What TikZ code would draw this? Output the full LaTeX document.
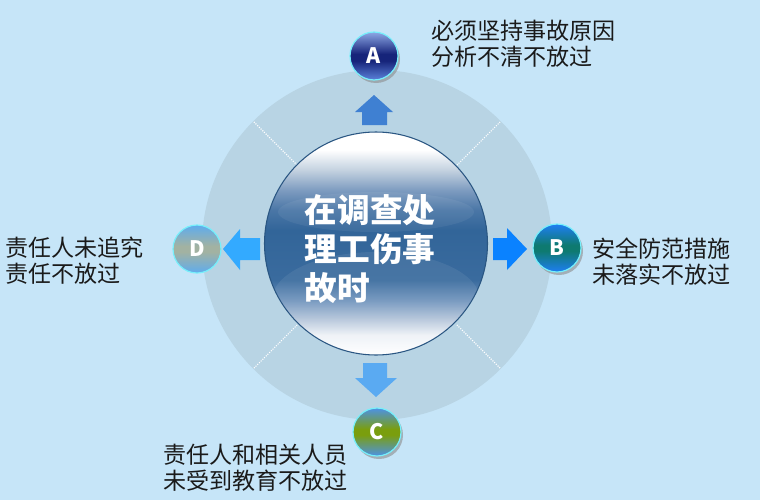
\documentclass[tikz,border=0pt]{standalone}
\usepackage{fontspec}
\setmainfont{Noto Sans CJK SC}
\newfontfamily\cjk{Noto Sans CJK SC}
\usetikzlibrary{shadings,calc}
\definecolor{bgc}{HTML}{C6E5F8}
\definecolor{ringc}{HTML}{B8D4E4}
\definecolor{iDark}{HTML}{326599}
\definecolor{aT}{HTML}{5C82DA}
\definecolor{aM}{HTML}{16247A}
\definecolor{bT}{HTML}{1E7EF4}
\definecolor{bM}{HTML}{0E7A70}
\definecolor{cT}{HTML}{4C92E6}
\definecolor{cM}{HTML}{7A9E0E}
\definecolor{dT}{HTML}{5EACEE}
\definecolor{dM}{HTML}{A2B2A2}
\definecolor{arU}{HTML}{3F80D2}
\definecolor{arR}{HTML}{0A82FF}
\definecolor{arL}{HTML}{33AAFF}
\definecolor{arD}{HTML}{5AAAF2}
\definecolor{txt}{HTML}{1A1A1A}
\definecolor{s1}{HTML}{C4D2E0}
\definecolor{s2}{HTML}{7E9CC0}
\definecolor{s3}{HTML}{4A76A6}
\definecolor{s4}{HTML}{3A6B9E}
\definecolor{s5}{HTML}{6F93BC}
\definecolor{s6}{HTML}{B8C8DC}
\definecolor{s7}{HTML}{EEF2F7}
\pgfdeclareverticalshading{innersh}{100bp}{color(0bp)=(white); color(25bp)=(white); color(29.5bp)=(s7); color(32.8bp)=(s6); color(37.3bp)=(s5); color(41.8bp)=(s4); color(53bp)=(iDark); color(57.5bp)=(s3); color(62bp)=(s2); color(66.5bp)=(s1); color(71bp)=(white); color(100bp)=(white)}
\pgfdeclareverticalshading{ballA}{100bp}{color(0bp)=(aT); color(25bp)=(aT); color(45bp)=(aM); color(52bp)=(aM); color(75bp)=(aT!70!white); color(100bp)=(aT)}
\pgfdeclareverticalshading{ballB}{100bp}{color(0bp)=(bT); color(25bp)=(bT); color(47bp)=(bM); color(53bp)=(bM); color(75bp)=(bT); color(100bp)=(bT)}
\pgfdeclareverticalshading{ballC}{100bp}{color(0bp)=(cT); color(25bp)=(cT); color(47bp)=(cM); color(53bp)=(cM); color(75bp)=(cT); color(100bp)=(cT)}
\pgfdeclareverticalshading{ballD}{100bp}{color(0bp)=(dT); color(25bp)=(dT); color(47bp)=(dM); color(53bp)=(dM); color(75bp)=(dT); color(100bp)=(dT)}
\tikzset{
  ball/.style={circle, minimum size=36pt, inner sep=0pt, shade, draw=bgc!60!cyan, line width=0.9pt,
    text=white, font=\cjk\bfseries\fontsize{16pt}{16pt}\selectfont},
  ballshadow/.style={fill=black!45, opacity=0.6},
  lbl/.style={anchor=west, inner sep=0pt, align=left, text=txt,
    font=\cjk\fontsize{17.3pt}{19.5pt}\selectfont},
  dotl/.style={white, densely dotted, line width=0.8pt}
}
\begin{document}
\begin{tikzpicture}[x=0.75pt,y=-0.75pt]
\fill[bgc] (0,0) rectangle (760,500);
\useasboundingbox (0,0) rectangle (760,500);
% ring
\fill[ringc] (377,245) circle (175);
\foreach \a in {45,135,225,315}{
  \draw[dotl] ($(377,245)+(\a:113)$) -- ($(377,245)+(\a:175)$);
}
% inner circle
\shade[shading=innersh, draw=iDark!85!black, line width=0.8pt] (376,243.5) circle (111.5);
\begin{scope}
  \clip (376,243.5) circle (111);
  \fill[white, opacity=0.06] (376,212) ellipse (98 and 20);
  \fill[white, opacity=0.07] (376,300) ellipse (104 and 48);
\end{scope}
\node[text=white, align=left, inner sep=0pt, font=\cjk\bfseries\fontsize{24.5pt}{29pt}\selectfont] (T) at (370,249) {在调查处\\理工伤事\\故时};
% arrows
\fill[arU] (374,95) -- (393,112) -- (387,112) -- (387,125) -- (362,125) -- (362,112) -- (355,112) -- cycle;
\fill[arR] (527,249) -- (507,228) -- (507,238) -- (493,238) -- (493,260) -- (507,260) -- (507,270) -- cycle;
\fill[arL] (223,249) -- (240,229) -- (240,238) -- (260,238) -- (260,260) -- (240,260) -- (240,270) -- cycle;
\fill[arD] (376,397) -- (397,378) -- (387,378) -- (387,363) -- (363,363) -- (363,378) -- (355,378) -- cycle;
% balls
\fill[ballshadow] (376,59) circle (24);
\node[ball, shading=ballA] (A) at (374,56) {A};
\fill[ballshadow] (559,251) circle (24);
\node[ball, shading=ballB] (B) at (557,248) {B};
\fill[ballshadow] (379,435) circle (24);
\node[ball, shading=ballC] (C) at (377,432) {C};
\node[ball, shading=ballD] (D) at (197,249) {D};
% labels
\node[lbl] (LA) at (431,44) {必须坚持事故原因\\分析不清不放过};
\node[lbl] (LB) at (592,262) {安全防范措施\\未落实不放过};
\node[lbl] (LD) at (5,261) {责任人未追究\\责任不放过};
\node[lbl] (LC) at (163,468) {责任人和相关人员\\未受到教育不放过};
\end{tikzpicture}
\end{document}
